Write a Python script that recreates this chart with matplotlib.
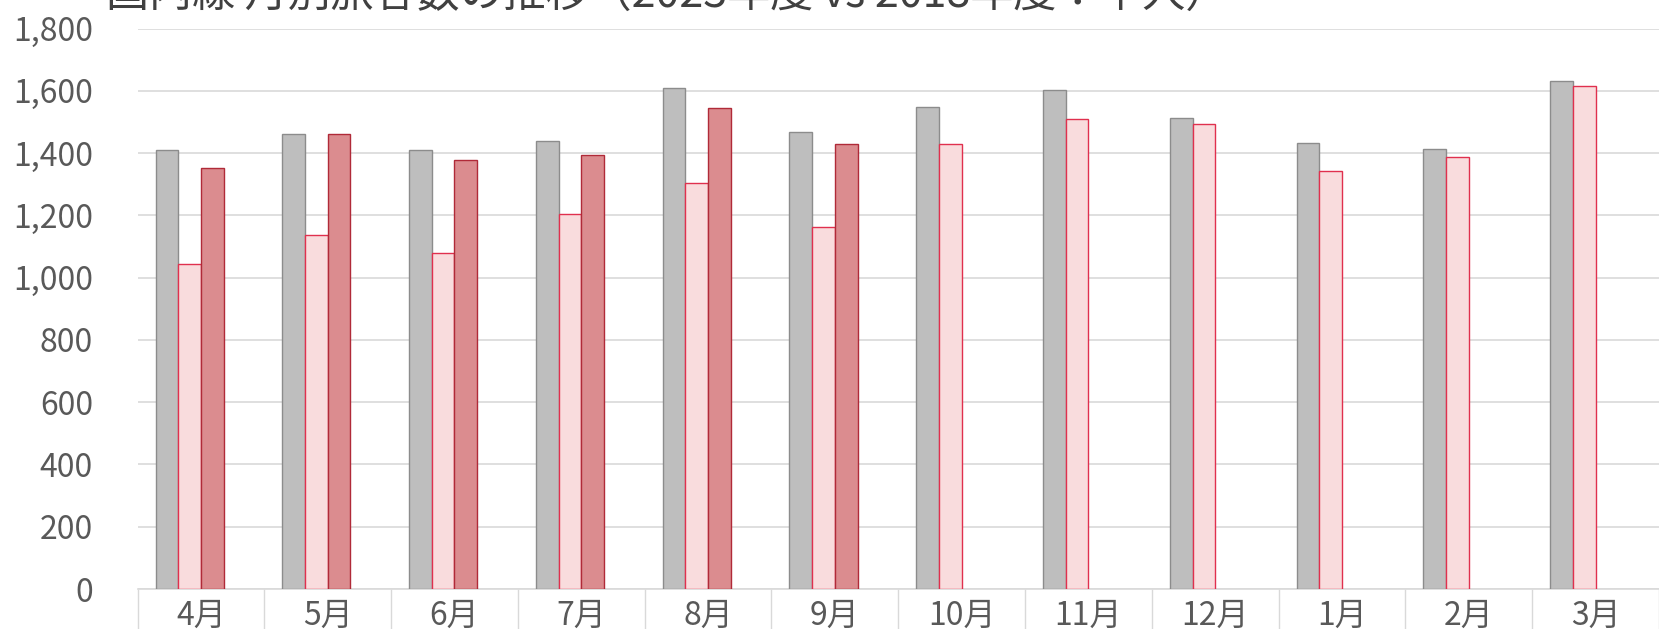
import numpy as np
import matplotlib
matplotlib.use("Agg")
import matplotlib.pyplot as plt
from matplotlib.ticker import FuncFormatter, MultipleLocator

plt.rcParams['font.family'] = ['Noto Sans CJK JP', 'DejaVu Sans']

months = ["4月", "5月", "6月", "7月", "8月", "9月", "10月", "11月", "12月", "1月", "2月", "3月"]
# 千人
fy2018 = [1411, 1463, 1411, 1438, 1609, 1468, 1549, 1604, 1514, 1431, 1414, 1631]
fy2022 = [1043, 1137, 1080, 1205, 1304, 1163, 1428, 1510, 1493, 1342, 1386, 1617]
fy2023 = [1351, 1463, 1377, 1394, 1544, 1428, np.nan, np.nan, np.nan, np.nan, np.nan, np.nan]

fig = plt.figure(figsize=(16.59, 6.29), dpi=100)
ax = fig.add_axes([137.5 / 1659, 40 / 629, 1 - 137.5 / 1659, (589 - 28.6) / 629])

x = np.arange(len(months))
w = 0.179
# 4 slots per group, the last one is empty
ax.bar(x - 1.5 * w, fy2018, w, color="#bebebe", edgecolor="#8c8c8c", linewidth=1, zorder=3)
ax.bar(x - 0.5 * w, fy2022, w, color="#f9dcdd", edgecolor="#e0304e", linewidth=1, zorder=3)
ax.bar(x + 0.5 * w, fy2023, w, color="#db8c8f", edgecolor="#b02a38", linewidth=1, zorder=3)

ax.set_xlim(-0.5, len(months) - 0.5)
ax.set_ylim(0, 1800)
ax.yaxis.set_major_locator(MultipleLocator(200))
ax.yaxis.set_major_formatter(FuncFormatter(lambda v, p: f"{int(v):,}"))
ax.grid(axis="y", color="#d9d9d9", linewidth=1.2, zorder=0)

ax.set_xticks(x)
ax.set_xticklabels(months)
ax.set_xticks(np.arange(-0.5, len(months)), minor=True)
ax.tick_params(axis="x", which="major", length=0, pad=8, labelsize=23, labelcolor="#595959")
ax.tick_params(axis="x", which="minor", length=30, width=1, color="#d9d9d9", direction="out")
ax.tick_params(axis="y", length=0, pad=32, labelsize=23, labelcolor="#595959")

for s in ["top", "right", "left"]:
    ax.spines[s].set_visible(False)
ax.spines["bottom"].set_color("#d9d9d9")
ax.spines["bottom"].set_linewidth(1.2)

fig.text(106 / 1659, 1.006, "国内線 月別旅客数の推移（2023年度 vs 2018年度：千人）",
         fontsize=31, color="#404040", ha="left", va="center")

fig.savefig("out.png", dpi=100)
